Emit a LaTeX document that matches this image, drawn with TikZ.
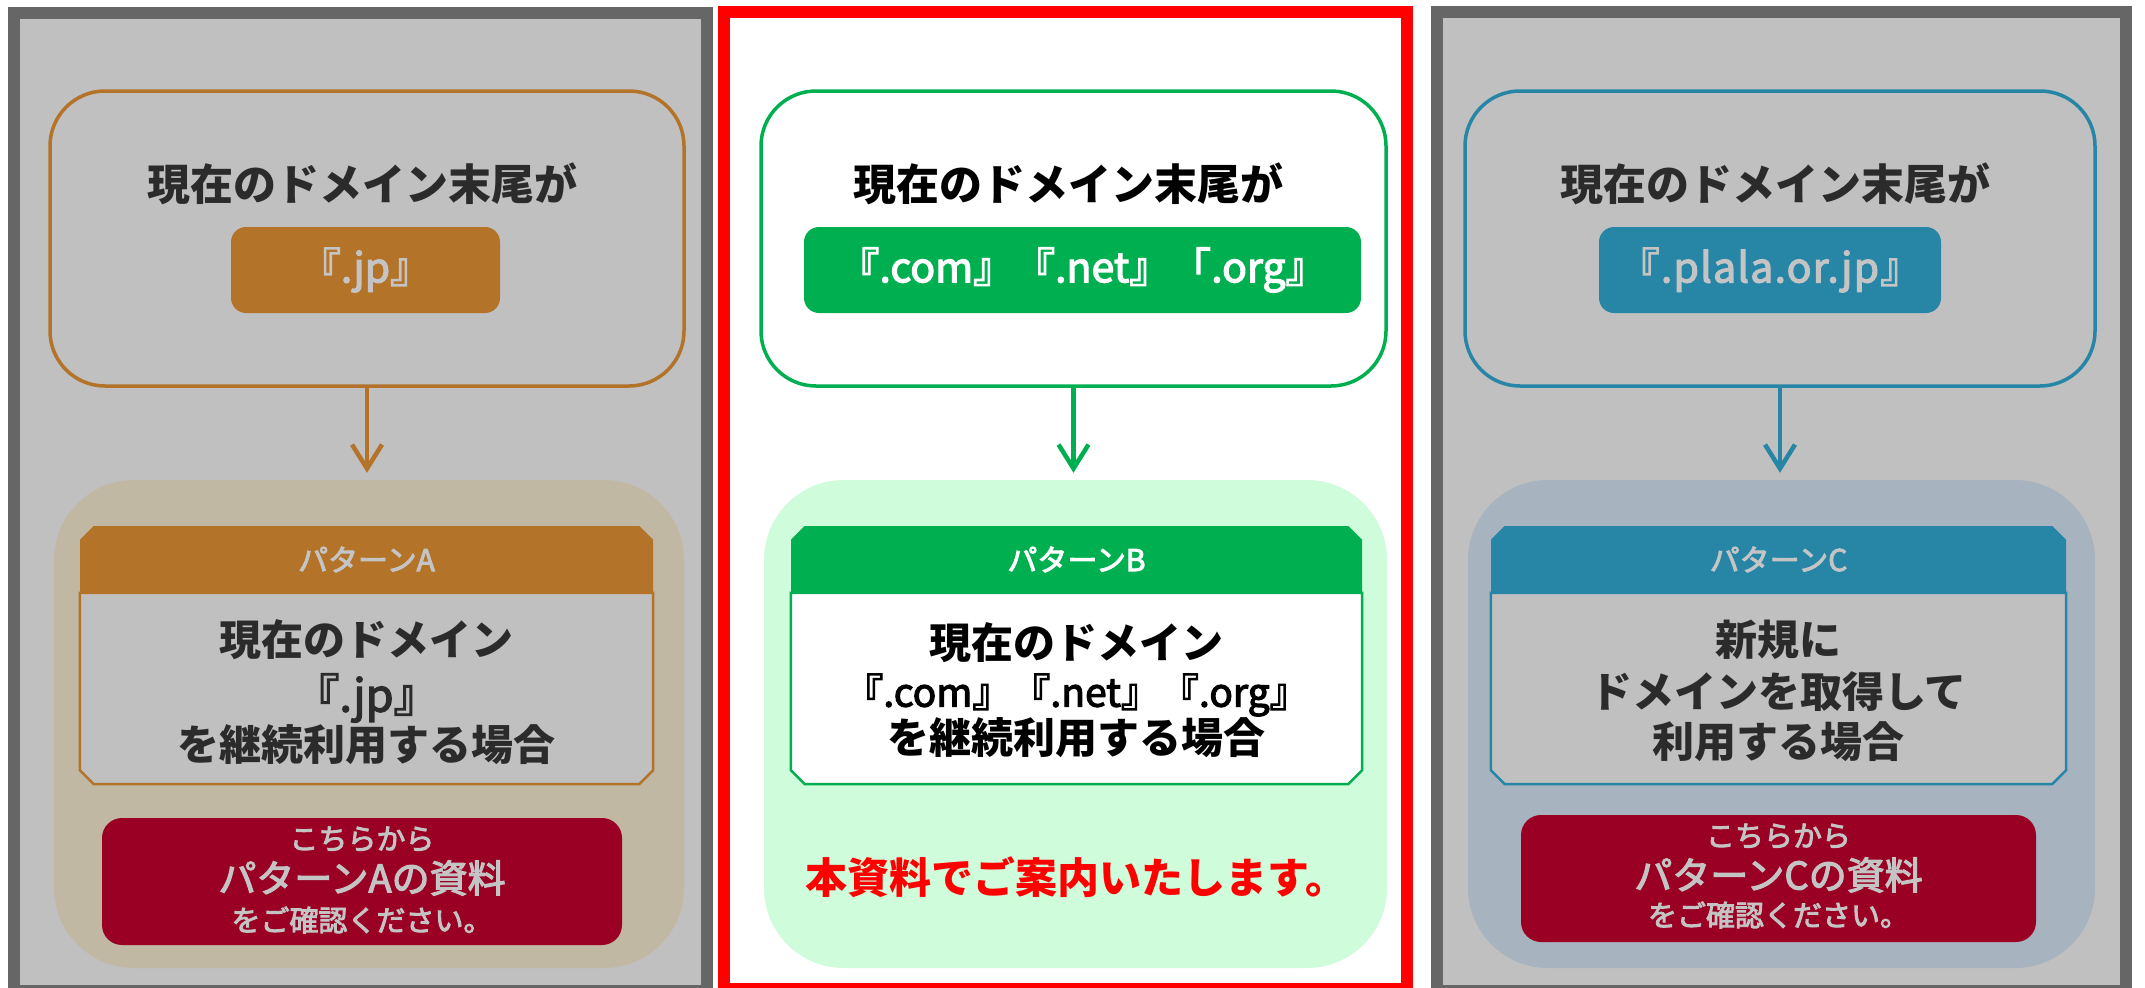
\documentclass[tikz,border=0pt]{standalone}
\usepackage{fontspec}
\setmainfont{Noto Sans CJK JP}
\newfontfamily\jpmed{Noto Sans CJK JP}[FakeBold=3]
\usetikzlibrary{arrows.meta,shapes.misc}
\definecolor{pgray}{HTML}{666666}
\definecolor{pfill}{HTML}{C0C0C0}
\definecolor{orA}{HTML}{B37329}
\definecolor{tanA}{HTML}{C0B8A2}
\definecolor{crim}{HTML}{990024}
\definecolor{grB}{HTML}{00B050}
\definecolor{mintB}{HTML}{CFFCDA}
\definecolor{tlC}{HTML}{2785A6}
\definecolor{bgC}{HTML}{A7B4BF}
\definecolor{dtxt}{HTML}{2B2B2B}
\definecolor{ltxt}{HTML}{C4C4C4}
\definecolor{redB}{HTML}{FF0000}
\newcommand\fsz[2]{\fontsize{#1}{#2}\selectfont}
\newcommand\chbody[3]{\draw[line width=2.5pt, draw=#2, fill=#3]
  (#1.north west) -- ([yshift=14pt]#1.south west) -- ([xshift=14pt]#1.south west)
  -- ([xshift=-14pt]#1.south east) -- ([yshift=14pt]#1.south east) -- (#1.north east) -- cycle;}
\begin{document}
\begin{tikzpicture}[x=1pt,y=-1pt,
  panel/.style={line width=12pt},
  topbox/.style={draw=#1, line width=3.5pt, rounded corners=55pt, minimum height=295pt, inner sep=0pt},
  pill/.style={fill=#1, rounded corners=15pt, minimum height=86pt, inner sep=0pt, font=\jpmed\fsz{41}{46}},
  bigbox/.style={fill=#1, rounded corners=80pt, minimum height=488pt, inner sep=0pt},
  hdr/.style={chamfered rectangle, chamfered rectangle corners={north west,north east},
    chamfered rectangle xsep=10pt, fill=#1, minimum height=67pt, inner sep=0pt, font=\jpmed\fsz{30}{36}},
  bodybox/.style={rectangle, minimum height=191pt, inner sep=0pt},
  btn/.style={fill=crim, rounded corners=20pt, minimum height=127pt, inner sep=0pt},
  headtxt/.style={inner sep=0pt, font=\fsz{43}{50}\bfseries},
  bodytxt/.style={inner sep=0pt, font=\fsz{42}{50}\bfseries},
  domtxt/.style={inner sep=0pt, font=\jpmed\fsz{#1}{50}},
  smalltxt/.style={inner sep=0pt, font=\jpmed\fsz{29}{34}, text=ltxt},
  midtxt/.style={inner sep=0pt, font=\jpmed\fsz{38}{44}, text=ltxt},
  arr/.style={draw=#1, line width=4.5pt, shorten >=7pt, -{Straight Barb[length=24pt,width=30pt]}}
]
\useasboundingbox (0,0) rectangle (2145,988);
\clip (0,0) rectangle (2145,988);
\fill[white] (0,0) rectangle (2145,988);

% panels
\draw[panel, draw=pgray, fill=pfill] (14,13) rectangle (707,991);
\draw[panel, draw=redB, fill=white] (724,12) rectangle (1406.5,989);
\draw[panel, draw=pgray, fill=pfill] (1437,12) rectangle (2126,991);

% ---------- Panel A ----------
\node[topbox=orA, fill=pfill, minimum width=634pt] (topA) at (367,238.5) {};
\node[headtxt, text=dtxt] (headA) at (362,184) {現在のドメイン末尾が};
\node[pill=orA, minimum width=269pt, text=ltxt] (pillA) at (365.5,270) {『.jp』};
\node[bigbox=tanA, minimum width=630pt] (bigA) at (369,724) {};
\node[bodybox, minimum width=573pt] (bodyA) at (366.5,688.5) {};
\chbody{bodyA}{orA}{pfill}
\node[hdr=orA, minimum width=573pt, text=ltxt] (hdrA) at (366.5,559.5) {パターンA};
\node[bodytxt, text=dtxt] (bodyA1) at (366.5,640) {現在のドメイン};
\node[domtxt=45, text=dtxt] (bodyA2) at (366.5,698) {『.jp』};
\node[bodytxt, text=dtxt] (bodyA3) at (366.5,745) {を継続利用する場合};
\node[btn, minimum width=520pt] (btnA) at (362,881.5) {};
\node[smalltxt] (btnA1) at (362,839) {こちらから};
\node[midtxt] (btnA2) at (362,878) {パターンAの資料};
\node[smalltxt] (btnA3) at (362,920) {をご確認ください。};
\draw[arr=orA] (topA.south) -- (topA.south |- bigA.north);

% ---------- Panel B ----------
\node[topbox=grB, fill=white, minimum width=625pt] (topB) at (1073.5,238.5) {};
\node[headtxt, text=black] (headB) at (1068,184) {現在のドメイン末尾が};
\node[pill=grB, minimum width=557pt, text=white] (pillB) at (1082.5,270) {『.com』『.net』「.org』};
\node[bigbox=mintB, minimum width=623pt] (bigB) at (1075.5,724) {};
\node[bodybox, minimum width=571pt] (bodyB) at (1076.5,688.5) {};
\chbody{bodyB}{grB}{white}
\node[hdr=grB, minimum width=571pt, text=white] (hdrB) at (1076.5,559.5) {パターンB};
\node[bodytxt, text=black] (bodyB1) at (1076.5,643) {現在のドメイン};
\node[domtxt=39, text=black] (bodyB2) at (1076.5,695) {『.com』『.net』『.org』};
\node[bodytxt, text=black] (bodyB3) at (1076.5,738) {を継続利用する場合};
\node[inner sep=0pt, font=\fsz{42}{50}\bfseries, text=redB] (noteB) at (1076.5,877) {本資料でご案内いたします。};
\draw[arr=grB] (topB.south) -- (topB.south |- bigB.north);

% ---------- Panel C ----------
\node[topbox=tlC, fill=pfill, minimum width=630pt] (topC) at (1780,238.5) {};
\node[headtxt, text=dtxt] (headC) at (1775,184) {現在のドメイン末尾が};
\node[pill=tlC, minimum width=342pt, text=ltxt] (pillC) at (1770,270) {\addfontfeature{LetterSpace=3}『.plala.or.jp』};
\node[bigbox=bgC, minimum width=627pt] (bigC) at (1781.5,724) {};
\node[bodybox, minimum width=575pt] (bodyC) at (1778.5,688.5) {};
\chbody{bodyC}{tlC}{pfill}
\node[hdr=tlC, minimum width=575pt, text=ltxt] (hdrC) at (1778.5,559.5) {パターンC};
\node[bodytxt, text=dtxt] (bodyC1) at (1778.5,640) {新規に};
\node[bodytxt, text=dtxt] (bodyC2) at (1778.5,692) {ドメインを取得して};
\node[bodytxt, text=dtxt] (bodyC3) at (1778.5,742) {利用する場合};
\node[btn, minimum width=515pt] (btnC) at (1778.5,878.5) {};
\node[smalltxt] (btnC1) at (1778.5,836) {こちらから};
\node[midtxt] (btnC2) at (1778.5,875) {パターンCの資料};
\node[smalltxt] (btnC3) at (1778.5,915) {をご確認ください。};
\draw[arr=tlC] (topC.south) -- (topC.south |- bigC.north);
\end{tikzpicture}
\end{document}
